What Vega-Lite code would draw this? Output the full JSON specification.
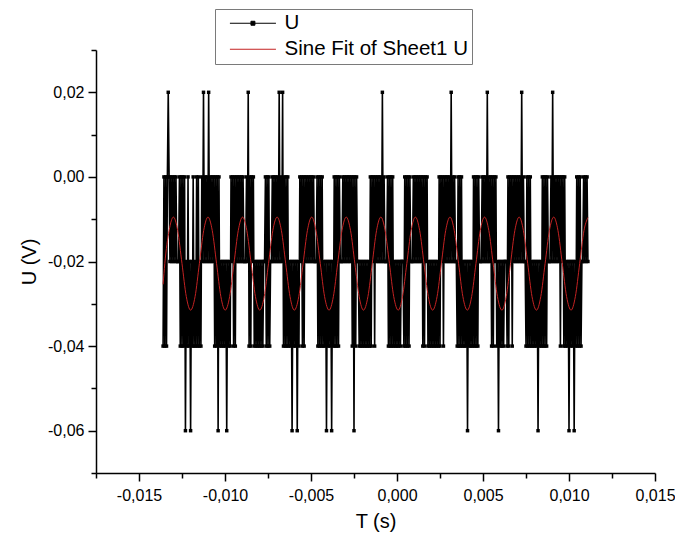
{
  "$schema": "https://vega.github.io/schema/vega-lite/v6.json",
  "width": 559,
  "height": 423,
  "autosize": {"type": "none"},
  "padding": {"left": 96, "top": 50, "right": 20, "bottom": 66},
  "background": "white",
  "config": {
    "view": {"stroke": null},
    "font": "Liberation Sans",
    "axis": {"domainColor": "#000000", "domainWidth": 1.5, "tickColor": "#000000", "tickWidth": 1.5, "labelColor": "#000000", "titleColor": "#000000", "labelFontSize": 16, "titleFontSize": 20, "titleFontWeight": "normal", "grid": false, "labelFont": "Liberation Sans", "titleFont": "Liberation Sans"}
  },
  "datasets": {
    "signal": [
      {"t":-0.0136,"u":-0.04},{"t":-0.01355,"u":0},{"t":-0.0135,"u":-0.04},{"t":-0.01345,"u":0},{"t":-0.0134,"u":-0.04},{"t":-0.01335,"u":0},{"t":-0.0133,"u":0.02},{"t":-0.01325,"u":0},{"t":-0.0132,"u":-0.02},{"t":-0.01315,"u":0},
      {"t":-0.0131,"u":-0.02},{"t":-0.01305,"u":0},{"t":-0.013,"u":-0.02},{"t":-0.01295,"u":0},{"t":-0.0129,"u":-0.02},{"t":-0.01285,"u":0},{"t":-0.0128,"u":-0.02},{"t":-0.01275,"u":-0.02},{"t":-0.0127,"u":-0.02},{"t":-0.01265,"u":0},
      {"t":-0.0126,"u":-0.04},{"t":-0.01255,"u":0},{"t":-0.0125,"u":-0.04},{"t":-0.01245,"u":0},{"t":-0.0124,"u":-0.04},{"t":-0.01235,"u":0},{"t":-0.0123,"u":-0.06},{"t":-0.01225,"u":-0.02},{"t":-0.0122,"u":-0.04},{"t":-0.01215,"u":0},
      {"t":-0.0121,"u":-0.04},{"t":-0.01205,"u":-0.02},{"t":-0.012,"u":-0.06},{"t":-0.01195,"u":-0.02},{"t":-0.0119,"u":-0.04},{"t":-0.01185,"u":0},{"t":-0.0118,"u":-0.04},{"t":-0.01175,"u":-0.02},{"t":-0.0117,"u":-0.04},{"t":-0.01165,"u":0},
      {"t":-0.0116,"u":-0.04},{"t":-0.01155,"u":0},{"t":-0.0115,"u":-0.04},{"t":-0.01145,"u":-0.02},{"t":-0.0114,"u":-0.04},{"t":-0.01135,"u":0},{"t":-0.0113,"u":-0.02},{"t":-0.01125,"u":0.02},{"t":-0.0112,"u":-0.02},{"t":-0.01115,"u":0},
      {"t":-0.0111,"u":-0.02},{"t":-0.01105,"u":0},{"t":-0.011,"u":-0.02},{"t":-0.01095,"u":0.02},{"t":-0.0109,"u":-0.02},{"t":-0.01085,"u":0},{"t":-0.0108,"u":-0.02},{"t":-0.01075,"u":0},{"t":-0.0107,"u":-0.02},{"t":-0.01065,"u":0},
      {"t":-0.0106,"u":-0.04},{"t":-0.01055,"u":0},{"t":-0.0105,"u":-0.04},{"t":-0.01045,"u":0},{"t":-0.0104,"u":-0.06},{"t":-0.01035,"u":0},{"t":-0.0103,"u":-0.04},{"t":-0.01025,"u":-0.02},{"t":-0.0102,"u":-0.04},{"t":-0.01015,"u":-0.02},
      {"t":-0.0101,"u":-0.04},{"t":-0.01005,"u":-0.02},{"t":-0.01,"u":-0.04},{"t":-0.00995,"u":-0.02},{"t":-0.0099,"u":-0.06},{"t":-0.00985,"u":-0.02},{"t":-0.0098,"u":-0.04},{"t":-0.00975,"u":-0.02},{"t":-0.0097,"u":-0.04},{"t":-0.00965,"u":0},
      {"t":-0.0096,"u":-0.02},{"t":-0.00955,"u":0},{"t":-0.0095,"u":-0.04},{"t":-0.00945,"u":0},{"t":-0.0094,"u":-0.04},{"t":-0.00935,"u":0},{"t":-0.0093,"u":-0.02},{"t":-0.00925,"u":0},{"t":-0.0092,"u":-0.02},{"t":-0.00915,"u":0},
      {"t":-0.0091,"u":-0.02},{"t":-0.00905,"u":0},{"t":-0.009,"u":-0.02},{"t":-0.00895,"u":0},{"t":-0.0089,"u":-0.02},{"t":-0.00885,"u":-0.02},{"t":-0.0088,"u":-0.02},{"t":-0.00875,"u":0},{"t":-0.0087,"u":-0.02},{"t":-0.00865,"u":0.02},
      {"t":-0.0086,"u":-0.04},{"t":-0.00855,"u":0},{"t":-0.0085,"u":-0.04},{"t":-0.00845,"u":0},{"t":-0.0084,"u":-0.02},{"t":-0.00835,"u":0},{"t":-0.0083,"u":-0.04},{"t":-0.00825,"u":-0.02},{"t":-0.0082,"u":-0.04},{"t":-0.00815,"u":-0.02},
      {"t":-0.0081,"u":-0.04},{"t":-0.00805,"u":-0.02},{"t":-0.008,"u":-0.04},{"t":-0.00795,"u":-0.02},{"t":-0.0079,"u":-0.04},{"t":-0.00785,"u":-0.02},{"t":-0.0078,"u":-0.04},{"t":-0.00775,"u":-0.02},{"t":-0.0077,"u":-0.02},{"t":-0.00765,"u":0},
      {"t":-0.0076,"u":-0.04},{"t":-0.00755,"u":0},{"t":-0.0075,"u":-0.04},{"t":-0.00745,"u":0},{"t":-0.0074,"u":-0.04},{"t":-0.00735,"u":-0.02},{"t":-0.0073,"u":-0.02},{"t":-0.00725,"u":0},{"t":-0.0072,"u":-0.02},{"t":-0.00715,"u":0},
      {"t":-0.0071,"u":-0.02},{"t":-0.00705,"u":0},{"t":-0.007,"u":-0.02},{"t":-0.00695,"u":0},{"t":-0.0069,"u":-0.02},{"t":-0.00685,"u":0.02},{"t":-0.0068,"u":-0.02},{"t":-0.00675,"u":0},{"t":-0.0067,"u":-0.02},{"t":-0.00665,"u":0.02},
      {"t":-0.0066,"u":-0.04},{"t":-0.00655,"u":0},{"t":-0.0065,"u":-0.04},{"t":-0.00645,"u":0},{"t":-0.0064,"u":-0.04},{"t":-0.00635,"u":0},{"t":-0.0063,"u":-0.04},{"t":-0.00625,"u":-0.02},{"t":-0.0062,"u":-0.04},{"t":-0.00615,"u":-0.02},
      {"t":-0.0061,"u":-0.06},{"t":-0.00605,"u":-0.02},{"t":-0.006,"u":-0.04},{"t":-0.00595,"u":-0.02},{"t":-0.0059,"u":-0.04},{"t":-0.00585,"u":-0.02},{"t":-0.0058,"u":-0.06},{"t":-0.00575,"u":-0.02},{"t":-0.0057,"u":-0.04},{"t":-0.00565,"u":0},
      {"t":-0.0056,"u":-0.02},{"t":-0.00555,"u":0},{"t":-0.0055,"u":-0.04},{"t":-0.00545,"u":0},{"t":-0.0054,"u":-0.04},{"t":-0.00535,"u":0},{"t":-0.0053,"u":-0.02},{"t":-0.00525,"u":0},{"t":-0.0052,"u":-0.02},{"t":-0.00515,"u":0},
      {"t":-0.0051,"u":-0.02},{"t":-0.00505,"u":0},{"t":-0.005,"u":-0.02},{"t":-0.00495,"u":0},{"t":-0.0049,"u":-0.02},{"t":-0.00485,"u":0},{"t":-0.0048,"u":-0.02},{"t":-0.00475,"u":-0.02},{"t":-0.0047,"u":-0.02},{"t":-0.00465,"u":0},
      {"t":-0.0046,"u":-0.04},{"t":-0.00455,"u":0},{"t":-0.0045,"u":-0.04},{"t":-0.00445,"u":0},{"t":-0.0044,"u":-0.04},{"t":-0.00435,"u":0},{"t":-0.0043,"u":-0.04},{"t":-0.00425,"u":-0.02},{"t":-0.0042,"u":-0.04},{"t":-0.00415,"u":-0.02},
      {"t":-0.0041,"u":-0.06},{"t":-0.00405,"u":-0.02},{"t":-0.004,"u":-0.04},{"t":-0.00395,"u":-0.02},{"t":-0.0039,"u":-0.04},{"t":-0.00385,"u":-0.02},{"t":-0.0038,"u":-0.06},{"t":-0.00375,"u":-0.02},{"t":-0.0037,"u":-0.04},{"t":-0.00365,"u":0},
      {"t":-0.0036,"u":-0.04},{"t":-0.00355,"u":0},{"t":-0.0035,"u":-0.04},{"t":-0.00345,"u":0},{"t":-0.0034,"u":-0.04},{"t":-0.00335,"u":0},{"t":-0.0033,"u":-0.02},{"t":-0.00325,"u":-0.02},{"t":-0.0032,"u":-0.02},{"t":-0.00315,"u":0},
      {"t":-0.0031,"u":-0.02},{"t":-0.00305,"u":0},{"t":-0.003,"u":-0.02},{"t":-0.00295,"u":0},{"t":-0.0029,"u":-0.02},{"t":-0.00285,"u":0},{"t":-0.0028,"u":-0.02},{"t":-0.00275,"u":0},{"t":-0.0027,"u":-0.02},{"t":-0.00265,"u":0},
      {"t":-0.0026,"u":-0.04},{"t":-0.00255,"u":0},{"t":-0.0025,"u":-0.06},{"t":-0.00245,"u":0},{"t":-0.0024,"u":-0.04},{"t":-0.00235,"u":0},{"t":-0.0023,"u":-0.02},{"t":-0.00225,"u":-0.02},{"t":-0.0022,"u":-0.04},{"t":-0.00215,"u":-0.02},
      {"t":-0.0021,"u":-0.04},{"t":-0.00205,"u":-0.02},{"t":-0.002,"u":-0.04},{"t":-0.00195,"u":-0.02},{"t":-0.0019,"u":-0.04},{"t":-0.00185,"u":-0.02},{"t":-0.0018,"u":-0.04},{"t":-0.00175,"u":-0.02},{"t":-0.0017,"u":-0.04},{"t":-0.00165,"u":-0.02},
      {"t":-0.0016,"u":-0.04},{"t":-0.00155,"u":0},{"t":-0.0015,"u":-0.04},{"t":-0.00145,"u":0},{"t":-0.0014,"u":-0.02},{"t":-0.00135,"u":0},{"t":-0.0013,"u":-0.04},{"t":-0.00125,"u":0},{"t":-0.0012,"u":-0.02},{"t":-0.00115,"u":0},
      {"t":-0.0011,"u":-0.02},{"t":-0.00105,"u":0},{"t":-0.001,"u":-0.02},{"t":-0.00095,"u":0},{"t":-0.0009,"u":-0.02},{"t":-0.00085,"u":0.02},{"t":-0.0008,"u":-0.02},{"t":-0.00075,"u":0},{"t":-0.0007,"u":-0.02},{"t":-0.00065,"u":-0.02},
      {"t":-0.0006,"u":-0.02},{"t":-0.00055,"u":0},{"t":-0.0005,"u":-0.04},{"t":-0.00045,"u":0},{"t":-0.0004,"u":-0.04},{"t":-0.00035,"u":0},{"t":-0.0003,"u":-0.04},{"t":-0.00025,"u":0},{"t":-0.0002,"u":-0.04},{"t":-0.00015,"u":-0.02},
      {"t":-0.0001,"u":-0.04},{"t":-0.00005,"u":-0.02},{"t":0,"u":-0.04},{"t":0.00005,"u":-0.02},{"t":0.0001,"u":-0.04},{"t":0.00015,"u":-0.02},{"t":0.0002,"u":-0.04},{"t":0.00025,"u":-0.02},{"t":0.0003,"u":-0.02},{"t":0.00035,"u":-0.02},
      {"t":0.0004,"u":-0.04},{"t":0.00045,"u":0},{"t":0.0005,"u":-0.04},{"t":0.00055,"u":0},{"t":0.0006,"u":-0.04},{"t":0.00065,"u":0},{"t":0.0007,"u":-0.04},{"t":0.00075,"u":0},{"t":0.0008,"u":-0.02},{"t":0.00085,"u":-0.02},
      {"t":0.0009,"u":-0.02},{"t":0.00095,"u":0},{"t":0.001,"u":-0.02},{"t":0.00105,"u":0},{"t":0.0011,"u":-0.02},{"t":0.00115,"u":0},{"t":0.0012,"u":-0.02},{"t":0.00125,"u":0},{"t":0.0013,"u":-0.02},{"t":0.00135,"u":0},
      {"t":0.0014,"u":-0.02},{"t":0.00145,"u":0},{"t":0.0015,"u":-0.04},{"t":0.00155,"u":0},{"t":0.0016,"u":-0.04},{"t":0.00165,"u":0},{"t":0.0017,"u":-0.02},{"t":0.00175,"u":0},{"t":0.0018,"u":-0.04},{"t":0.00185,"u":-0.02},
      {"t":0.0019,"u":-0.04},{"t":0.00195,"u":-0.02},{"t":0.002,"u":-0.04},{"t":0.00205,"u":-0.02},{"t":0.0021,"u":-0.04},{"t":0.00215,"u":-0.02},{"t":0.0022,"u":-0.04},{"t":0.00225,"u":-0.02},{"t":0.0023,"u":-0.04},{"t":0.00235,"u":-0.02},
      {"t":0.0024,"u":-0.04},{"t":0.00245,"u":0},{"t":0.0025,"u":-0.04},{"t":0.00255,"u":0},{"t":0.0026,"u":-0.02},{"t":0.00265,"u":0},{"t":0.0027,"u":-0.04},{"t":0.00275,"u":0},{"t":0.0028,"u":-0.02},{"t":0.00285,"u":0},
      {"t":0.0029,"u":-0.02},{"t":0.00295,"u":0},{"t":0.003,"u":-0.02},{"t":0.00305,"u":0},{"t":0.0031,"u":-0.02},{"t":0.00315,"u":0.02},{"t":0.0032,"u":-0.02},{"t":0.00325,"u":0},{"t":0.0033,"u":-0.02},{"t":0.00335,"u":0},
      {"t":0.0034,"u":-0.02},{"t":0.00345,"u":-0.02},{"t":0.0035,"u":-0.04},{"t":0.00355,"u":0},{"t":0.0036,"u":-0.04},{"t":0.00365,"u":0},{"t":0.0037,"u":-0.04},{"t":0.00375,"u":0},{"t":0.0038,"u":-0.04},{"t":0.00385,"u":-0.02},
      {"t":0.0039,"u":-0.04},{"t":0.00395,"u":-0.02},{"t":0.004,"u":-0.04},{"t":0.00405,"u":-0.02},{"t":0.0041,"u":-0.06},{"t":0.00415,"u":-0.02},{"t":0.0042,"u":-0.04},{"t":0.00425,"u":-0.02},{"t":0.0043,"u":-0.04},{"t":0.00435,"u":-0.02},
      {"t":0.0044,"u":-0.04},{"t":0.00445,"u":0},{"t":0.0045,"u":-0.04},{"t":0.00455,"u":0},{"t":0.0046,"u":-0.04},{"t":0.00465,"u":0},{"t":0.0047,"u":-0.04},{"t":0.00475,"u":0},{"t":0.0048,"u":-0.02},{"t":0.00485,"u":-0.02},
      {"t":0.0049,"u":-0.02},{"t":0.00495,"u":0},{"t":0.005,"u":-0.02},{"t":0.00505,"u":0},{"t":0.0051,"u":-0.02},{"t":0.00515,"u":0},{"t":0.0052,"u":-0.02},{"t":0.00525,"u":0.02},{"t":0.0053,"u":-0.02},{"t":0.00535,"u":0},
      {"t":0.0054,"u":-0.02},{"t":0.00545,"u":0},{"t":0.0055,"u":-0.04},{"t":0.00555,"u":0},{"t":0.0056,"u":-0.04},{"t":0.00565,"u":0},{"t":0.0057,"u":-0.02},{"t":0.00575,"u":0},{"t":0.0058,"u":-0.04},{"t":0.00585,"u":-0.02},
      {"t":0.0059,"u":-0.06},{"t":0.00595,"u":-0.02},{"t":0.006,"u":-0.04},{"t":0.00605,"u":-0.02},{"t":0.0061,"u":-0.04},{"t":0.00615,"u":-0.02},{"t":0.0062,"u":-0.04},{"t":0.00625,"u":-0.02},{"t":0.0063,"u":-0.02},{"t":0.00635,"u":-0.02},
      {"t":0.0064,"u":-0.04},{"t":0.00645,"u":0},{"t":0.0065,"u":-0.04},{"t":0.00655,"u":0},{"t":0.0066,"u":-0.02},{"t":0.00665,"u":0},{"t":0.0067,"u":-0.04},{"t":0.00675,"u":0},{"t":0.0068,"u":-0.02},{"t":0.00685,"u":0},
      {"t":0.0069,"u":-0.02},{"t":0.00695,"u":0},{"t":0.007,"u":-0.02},{"t":0.00705,"u":0},{"t":0.0071,"u":-0.02},{"t":0.00715,"u":0},{"t":0.0072,"u":-0.02},{"t":0.00725,"u":0.02},{"t":0.0073,"u":-0.02},{"t":0.00735,"u":0},
      {"t":0.0074,"u":-0.02},{"t":0.00745,"u":-0.02},{"t":0.0075,"u":-0.04},{"t":0.00755,"u":0},{"t":0.0076,"u":-0.04},{"t":0.00765,"u":0},{"t":0.0077,"u":-0.04},{"t":0.00775,"u":0},{"t":0.0078,"u":-0.04},{"t":0.00785,"u":-0.02},
      {"t":0.0079,"u":-0.04},{"t":0.00795,"u":-0.02},{"t":0.008,"u":-0.04},{"t":0.00805,"u":-0.02},{"t":0.0081,"u":-0.04},{"t":0.00815,"u":-0.02},{"t":0.0082,"u":-0.06},{"t":0.00825,"u":-0.02},{"t":0.0083,"u":-0.04},{"t":0.00835,"u":-0.02},
      {"t":0.0084,"u":-0.04},{"t":0.00845,"u":0},{"t":0.0085,"u":-0.04},{"t":0.00855,"u":0},{"t":0.0086,"u":-0.04},{"t":0.00865,"u":0},{"t":0.0087,"u":-0.04},{"t":0.00875,"u":0},{"t":0.0088,"u":-0.02},{"t":0.00885,"u":-0.02},
      {"t":0.0089,"u":-0.02},{"t":0.00895,"u":0},{"t":0.009,"u":-0.02},{"t":0.00905,"u":0.02},{"t":0.0091,"u":-0.02},{"t":0.00915,"u":0},{"t":0.0092,"u":-0.02},{"t":0.00925,"u":0},{"t":0.0093,"u":-0.02},{"t":0.00935,"u":0},
      {"t":0.0094,"u":-0.02},{"t":0.00945,"u":0},{"t":0.0095,"u":-0.04},{"t":0.00955,"u":0},{"t":0.0096,"u":-0.02},{"t":0.00965,"u":0},{"t":0.0097,"u":-0.04},{"t":0.00975,"u":0},{"t":0.0098,"u":-0.04},{"t":0.00985,"u":-0.02},
      {"t":0.0099,"u":-0.04},{"t":0.00995,"u":-0.02},{"t":0.01,"u":-0.06},{"t":0.01005,"u":-0.02},{"t":0.0101,"u":-0.04},{"t":0.01015,"u":-0.02},{"t":0.0102,"u":-0.04},{"t":0.01025,"u":-0.02},{"t":0.0103,"u":-0.06},{"t":0.01035,"u":-0.02},
      {"t":0.0104,"u":-0.04},{"t":0.01045,"u":0},{"t":0.0105,"u":-0.04},{"t":0.01055,"u":0},{"t":0.0106,"u":-0.04},{"t":0.01065,"u":0},{"t":0.0107,"u":-0.04},{"t":0.01075,"u":-0.02},{"t":0.0108,"u":-0.02},{"t":0.01085,"u":0},
      {"t":0.0109,"u":-0.02},{"t":0.01095,"u":0},{"t":0.011,"u":-0.02},{"t":0.01105,"u":0},{"t":0.0111,"u":-0.02}
    ],
    "fit": [
      {"t":-0.0136,"u":-0.0254},{"t":-0.0135,"u":-0.0205},{"t":-0.01325,"u":-0.0127},
      {"t":-0.013,"u":-0.0095},{"t":-0.01275,"u":-0.0127},{"t":-0.0125,"u":-0.0205},{"t":-0.01225,"u":-0.0283},{"t":-0.012,"u":-0.0315},{"t":-0.01174,"u":-0.0283},{"t":-0.01149,"u":-0.0205},{"t":-0.01124,"u":-0.0127},
      {"t":-0.01099,"u":-0.0095},{"t":-0.01074,"u":-0.0127},{"t":-0.01049,"u":-0.0205},{"t":-0.01024,"u":-0.0283},{"t":-0.00999,"u":-0.0315},{"t":-0.00973,"u":-0.0283},{"t":-0.00948,"u":-0.0205},{"t":-0.00923,"u":-0.0127},
      {"t":-0.00898,"u":-0.0095},{"t":-0.00873,"u":-0.0127},{"t":-0.00848,"u":-0.0205},{"t":-0.00823,"u":-0.0283},{"t":-0.00798,"u":-0.0315},{"t":-0.00772,"u":-0.0283},{"t":-0.00747,"u":-0.0205},{"t":-0.00722,"u":-0.0127},
      {"t":-0.00697,"u":-0.0095},{"t":-0.00672,"u":-0.0127},{"t":-0.00647,"u":-0.0205},{"t":-0.00622,"u":-0.0283},{"t":-0.00597,"u":-0.0315},{"t":-0.00571,"u":-0.0283},{"t":-0.00546,"u":-0.0205},{"t":-0.00521,"u":-0.0127},
      {"t":-0.00496,"u":-0.0095},{"t":-0.00471,"u":-0.0127},{"t":-0.00446,"u":-0.0205},{"t":-0.00421,"u":-0.0283},{"t":-0.00395,"u":-0.0315},{"t":-0.0037,"u":-0.0283},{"t":-0.00345,"u":-0.0205},{"t":-0.0032,"u":-0.0127},
      {"t":-0.00295,"u":-0.0095},{"t":-0.0027,"u":-0.0127},{"t":-0.00245,"u":-0.0205},{"t":-0.0022,"u":-0.0283},{"t":-0.00195,"u":-0.0315},{"t":-0.00169,"u":-0.0283},{"t":-0.00144,"u":-0.0205},{"t":-0.00119,"u":-0.0127},
      {"t":-0.00094,"u":-0.0095},{"t":-0.00069,"u":-0.0127},{"t":-0.00044,"u":-0.0205},{"t":-0.00019,"u":-0.0283},{"t":0.00007,"u":-0.0315},{"t":0.00032,"u":-0.0283},{"t":0.00057,"u":-0.0205},{"t":0.00082,"u":-0.0127},
      {"t":0.00107,"u":-0.0095},{"t":0.00132,"u":-0.0127},{"t":0.00157,"u":-0.0205},{"t":0.00182,"u":-0.0283},{"t":0.00207,"u":-0.0315},{"t":0.00233,"u":-0.0283},{"t":0.00258,"u":-0.0205},{"t":0.00283,"u":-0.0127},
      {"t":0.00308,"u":-0.0095},{"t":0.00333,"u":-0.0127},{"t":0.00358,"u":-0.0205},{"t":0.00383,"u":-0.0283},{"t":0.00409,"u":-0.0315},{"t":0.00434,"u":-0.0283},{"t":0.00459,"u":-0.0205},{"t":0.00484,"u":-0.0127},
      {"t":0.00509,"u":-0.0095},{"t":0.00534,"u":-0.0127},{"t":0.00559,"u":-0.0205},{"t":0.00584,"u":-0.0283},{"t":0.0061,"u":-0.0315},{"t":0.00635,"u":-0.0283},{"t":0.0066,"u":-0.0205},{"t":0.00685,"u":-0.0127},
      {"t":0.0071,"u":-0.0095},{"t":0.00735,"u":-0.0127},{"t":0.0076,"u":-0.0205},{"t":0.00785,"u":-0.0283},{"t":0.00811,"u":-0.0315},{"t":0.00836,"u":-0.0283},{"t":0.00861,"u":-0.0205},{"t":0.00886,"u":-0.0127},
      {"t":0.00911,"u":-0.0095},{"t":0.00936,"u":-0.0127},{"t":0.00961,"u":-0.0205},{"t":0.00986,"u":-0.0283},{"t":0.01012,"u":-0.0315},{"t":0.01037,"u":-0.0283},{"t":0.01062,"u":-0.0205},{"t":0.01087,"u":-0.0127},
      {"t":0.0111,"u":-0.0096}
    ]
  },
  "encoding": {
    "x": {
      "field": "t", "type": "quantitative",
      "scale": {"domain": [-0.0175, 0.015], "nice": false, "zero": false},
      "axis": {
        "title": "T (s)",
        "values": [-0.0175,-0.015,-0.0125,-0.01,-0.0075,-0.005,-0.0025,0,0.0025,0.005,0.0075,0.01,0.0125,0.015],
        "labelExpr": "round(datum.value*400) % 2 == 0 ? replace(replace(format(datum.value, '.3f'), '.', ','), '\u2212', '-') : ''",
        "tickSize": {"condition": {"test": "round(datum.value*400) % 2 == 0", "value": 8}, "value": 5},
        "labelPadding": 6,
        "labelFlush": false,
        "labelOverlap": false,
        "titlePadding": 8
      }
    },
    "y": {
      "field": "u", "type": "quantitative",
      "scale": {"domain": [-0.07, 0.03], "nice": false, "zero": false},
      "axis": {
        "title": "U (V)",
        "values": [-0.07,-0.06,-0.05,-0.04,-0.03,-0.02,-0.01,0,0.01,0.02,0.03],
        "labelExpr": "round(datum.value*100) % 2 == 0 ? replace(replace(format(datum.value, '.2f'), '.', ','), '\u2212', '-') : ''",
        "tickSize": {"condition": {"test": "round(datum.value*100) % 2 == 0", "value": 8}, "value": 5},
        "labelPadding": 4,
        "labelFlush": false,
        "labelOverlap": false,
        "titlePadding": 8
      }
    }
  },
  "layer": [
    {
      "data": {"name": "signal"},
      "mark": {"type": "line", "strokeWidth": 1.6, "clip": false},
      "encoding": {
        "color": {
          "datum": "U", "type": "nominal",
          "scale": {"domain": ["U", "Sine Fit of Sheet1 U"], "range": ["#000000", "#c42222"]},
          "legend": {
            "title": null,
            "orient": "none",
            "legendX": 119,
            "legendY": -41,
            "direction": "vertical",
            "fillColor": "#ffffff",
            "strokeColor": "#7a7a7a",
            "padding": 4,
            "rowPadding": 5,
            "labelFontSize": 20.5,
            "labelFont": "Liberation Sans",
            "labelColor": "#000000",
            "labelLimit": 400,
            "labelOffset": 45,
            "symbolType": "stroke",
            "symbolSize": 215,
            "symbolStrokeWidth": 1,
            "encode": {
              "symbols": {
                "update": {
                  "shape": {"signal": "datum.value === 'U' ? 'M0.09,0H6.37M2.96,-0.27H3.5V0.27H2.96Z' : 'M0.09,0H6.37'"},
                  "fill": {"signal": "datum.value === 'U' ? '#000000' : 'transparent'"}
                }
              }
            }
          }
        }
      }
    },
    {
      "data": {"name": "signal"},
      "mark": {"type": "point", "shape": "square", "size": 12, "filled": true, "color": "#000000", "opacity": 1}
    },
    {
      "data": {"name": "fit"},
      "mark": {"type": "line", "strokeWidth": 1, "interpolate": "monotone"},
      "encoding": {
        "color": {"datum": "Sine Fit of Sheet1 U", "type": "nominal"}
      }
    }
  ]
}
